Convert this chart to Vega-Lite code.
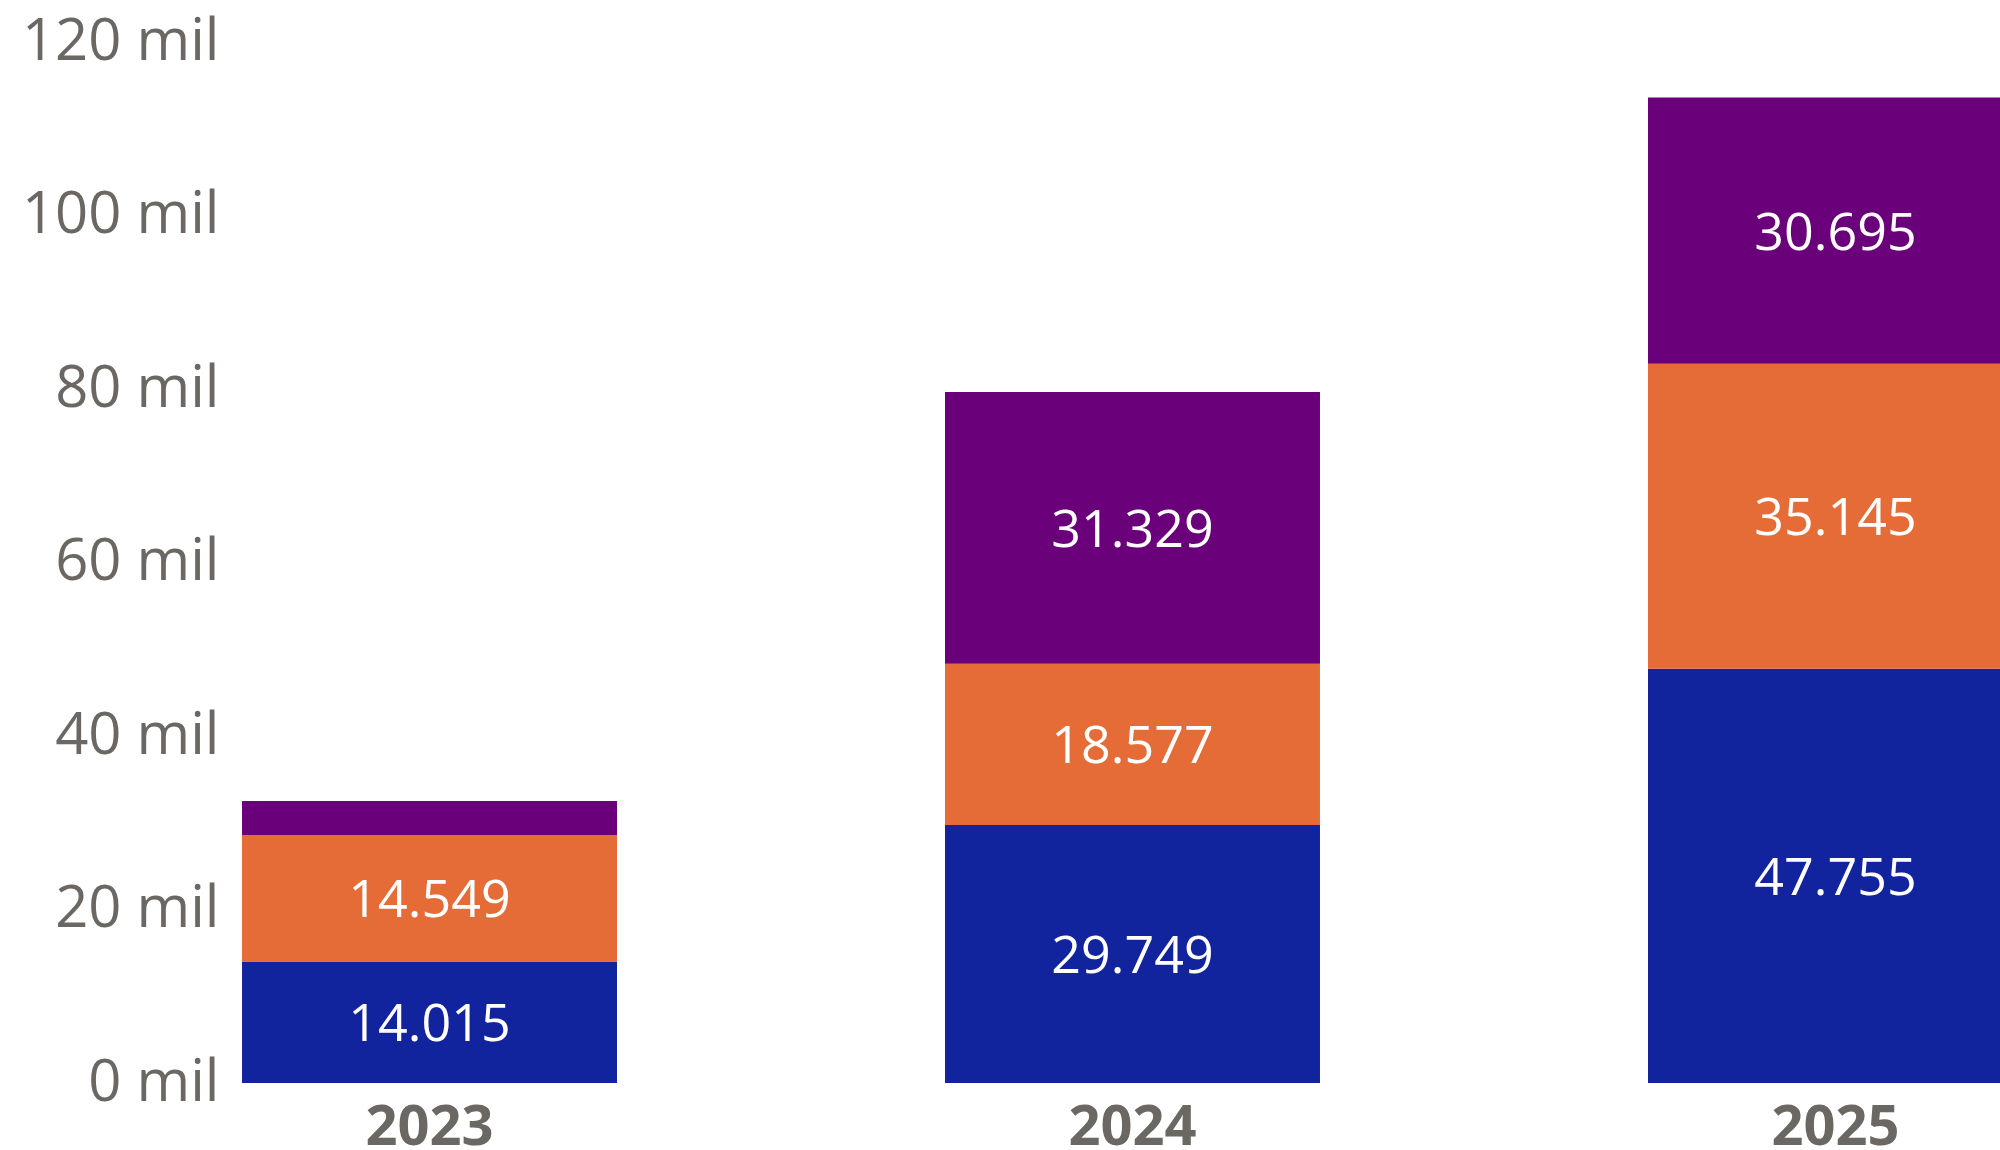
{
  "$schema": "https://vega.github.io/schema/vega-lite/v6.json",
  "autosize": {"type": "none"},
  "width": 1770,
  "height": 1041,
  "padding": {"left": 230, "top": 42, "right": 0, "bottom": 67},
  "background": "white",
  "config": {
    "view": {"stroke": null},
    "locale": {"number": {"decimal": ",", "thousands": ".", "grouping": [3], "currency": ["R$", ""]}},
    "font": "Open Sans"
  },
  "data": {
    "values": [
      {"ano": "2023", "serie": "S1", "ordem": 1, "valor": 14015},
      {"ano": "2023", "serie": "S2", "ordem": 2, "valor": 14549},
      {"ano": "2023", "serie": "S3", "ordem": 3, "valor": 3940},
      {"ano": "2024", "serie": "S1", "ordem": 1, "valor": 29749},
      {"ano": "2024", "serie": "S2", "ordem": 2, "valor": 18577},
      {"ano": "2024", "serie": "S3", "ordem": 3, "valor": 31329},
      {"ano": "2025", "serie": "S1", "ordem": 1, "valor": 47755},
      {"ano": "2025", "serie": "S2", "ordem": 2, "valor": 35145},
      {"ano": "2025", "serie": "S3", "ordem": 3, "valor": 30695}
    ]
  },
  "encoding": {
    "x": {
      "field": "ano",
      "type": "nominal",
      "scale": {"range": [0, 1805], "paddingInner": 0.4666, "paddingOuter": 0.0171},
      "axis": {
        "title": null,
        "domain": false,
        "ticks": false,
        "labelAngle": 0,
        "labelFontSize": 56,
        "labelFontWeight": "bold",
        "labelColor": "#6b6763",
        "labelPadding": 17,
        "labelLimit": 0
      }
    },
    "y": {
      "field": "valor",
      "type": "quantitative",
      "stack": "zero",
      "scale": {"domain": [0, 120000], "nice": false},
      "axis": {
        "title": null,
        "domain": false,
        "ticks": false,
        "grid": false,
        "values": [0, 20000, 40000, 60000, 80000, 100000, 120000],
        "labelExpr": "(datum.value / 1000) + ' mil'",
        "labelFontSize": 58,
        "labelColor": "#6b6763",
        "labelPadding": 11,
        "labelOverlap": false,
        "labelLimit": 0
      }
    },
    "order": {"field": "ordem", "type": "quantitative"}
  },
  "layer": [
    {
      "mark": {"type": "bar"},
      "encoding": {
        "color": {
          "field": "serie",
          "type": "nominal",
          "scale": {"domain": ["S1", "S2", "S3"], "range": ["#12239E", "#E66C37", "#6B007B"]},
          "legend": null
        }
      }
    },
    {
      "transform": [{"filter": "datum.valor > 6000"}],
      "mark": {"type": "text", "color": "white", "fontSize": 52, "baseline": "middle", "align": "center", "dy": 3},
      "encoding": {
        "y": {"field": "valor", "type": "quantitative", "stack": "zero", "bandPosition": 0.5},
        "text": {"field": "valor", "type": "quantitative", "format": ",.0f"}
      }
    }
  ]
}
